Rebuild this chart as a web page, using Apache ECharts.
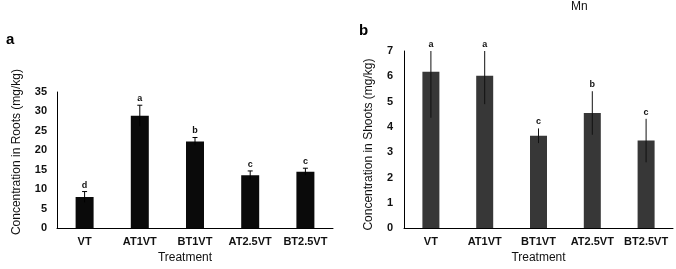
<!DOCTYPE html>
<html lang="en">
<head>
    <meta charset="UTF-8">
    <title>Mn</title>
    <script src="https://cdn.jsdelivr.net/npm/echarts@6/dist/echarts.min.js"></script>
    <style>
        *{margin:0;padding:0;overflow:hidden;}
        .main{width:676px;height:269px;background:#fff;}
    </style>
</head>
<body>
    <div class="main"></div>
    <script>
        var categories=['VT','AT1VT','BT1VT','AT2.5VT','BT2.5VT']
        // roots (panel a)
        var rootMean=[8.0,28.9,22.3,13.6,14.5]
        var rootErr=[1.4,2.7,1.0,1.1,0.9]
        var rootLetters=['d','a','b','c','c']
        // shoots (panel b)
        var shootMean=[6.18,6.02,3.65,4.55,3.46]
        var shootErr=[1.82,1.12,0.29,0.86,0.86]
        var shootLetters=['a','a','c','b','c']
        var rootTicks=[0,35,5]   // min,max,interval
        var shootTicks=[0,7,1]

        var font='Liberation Sans, Arial, sans-serif'

        function errData(mean,err){
            var out=[]
            for(var i=0;i<mean.length;i++){ out.push([i,mean[i],err[i]]) }
            return out
        }

        function errRender(max,cap,color,letters){
            return function(params,api){
                var x=api.value(0),m=api.value(1),e=api.value(2)
                var hi=Math.min(m+e,max)
                var pLo=api.coord([x,m-e])
                var pHi=api.coord([x,hi])
                var kids=[{
                    type:'line',
                    shape:{x1:pHi[0],y1:pHi[1],x2:pLo[0],y2:pLo[1]},
                    style:{stroke:color,lineWidth:1}
                }]
                if(cap>0 && m+e<=max){
                    kids.push({type:'line',shape:{x1:pHi[0]-cap,y1:pHi[1],x2:pHi[0]+cap,y2:pHi[1]},style:{stroke:color,lineWidth:1}})
                }
                kids.push({
                    type:'text',
                    style:{
                        text:letters[params.dataIndex],
                        x:pHi[0],y:pHi[1]-2,
                        align:'center',verticalAlign:'bottom',
                        font:'bold 9px '+font,fill:'#111'
                    }
                })
                return {type:'group',children:kids}
            }
        }

        var tickLabel={color:'#111',fontSize:11,fontWeight:'bold',fontFamily:font}
        var nameStyle={color:'#111',fontSize:12,fontFamily:font}

        var myChart=echarts.init(document.querySelector('.main'))
        var option={
            animation:false,
            title:[
                {text:'a',left:1,top:27,textStyle:{fontSize:15,fontWeight:'bold',color:'#000',fontFamily:font}},
                {text:'b',left:354,top:18,textStyle:{fontSize:15,fontWeight:'bold',color:'#000',fontFamily:font}},
                {text:'Mn',left:566,top:-4,textStyle:{fontSize:12,fontWeight:'normal',color:'#111',fontFamily:font}}
            ],
            grid:[
                {left:57,right:343,top:92,bottom:35.5},
                {left:404,right:3,top:51,bottom:35.7}
            ],
            xAxis:[
                {
                    type:'category',gridIndex:0,data:categories,
                    axisLine:{lineStyle:{color:'#000',width:1}},
                    axisTick:{show:false},
                    axisLabel:Object.assign({margin:8,interval:0},tickLabel),
                    name:'Treatment',nameLocation:'middle',nameGap:23,
                    nameTextStyle:Object.assign({padding:[0,20,0,0]},nameStyle)
                },
                {
                    type:'category',gridIndex:1,data:categories,
                    axisLine:{lineStyle:{color:'#000',width:1}},
                    axisTick:{show:false},
                    axisLabel:Object.assign({margin:8,interval:0},tickLabel),
                    name:'Treatment',nameLocation:'middle',nameGap:23,
                    nameTextStyle:nameStyle
                }
            ],
            yAxis:[
                {
                    type:'value',gridIndex:0,min:rootTicks[0],max:rootTicks[1],interval:rootTicks[2],
                    axisLine:{show:true,lineStyle:{color:'#000',width:1}},
                    axisTick:{show:false},splitLine:{show:false},
                    axisLabel:Object.assign({margin:10},tickLabel),
                    name:'Concentration in Roots (mg/kg)',nameLocation:'middle',nameGap:34,
                    nameTextStyle:Object.assign({padding:[0,0,0,16]},nameStyle)
                },
                {
                    type:'value',gridIndex:1,min:shootTicks[0],max:shootTicks[1],interval:shootTicks[2],
                    axisLine:{show:true,lineStyle:{color:'#000',width:1}},
                    axisTick:{show:false},splitLine:{show:false},
                    axisLabel:Object.assign({margin:11},tickLabel),
                    name:'Concentration in Shoots (mg/kg)',nameLocation:'middle',nameGap:29,
                    nameTextStyle:Object.assign({padding:[0,10,0,0]},nameStyle)
                }
            ],
            series:[
                {
                    type:'bar',xAxisIndex:0,yAxisIndex:0,data:rootMean,barWidth:18,
                    itemStyle:{color:'#0a0a0a'}
                },
                {
                    type:'custom',xAxisIndex:0,yAxisIndex:0,data:errData(rootMean,rootErr),
                    renderItem:errRender(rootTicks[1],2.5,'#000',rootLetters),z:5
                },
                {
                    type:'bar',xAxisIndex:1,yAxisIndex:1,data:shootMean,barWidth:17,
                    itemStyle:{color:'#373737'}
                },
                {
                    type:'custom',xAxisIndex:1,yAxisIndex:1,data:errData(shootMean,shootErr),
                    renderItem:errRender(shootTicks[1],0,'#111',shootLetters),z:5
                }
            ]
        }
        myChart.setOption(option)
    </script>
</body>
</html>
